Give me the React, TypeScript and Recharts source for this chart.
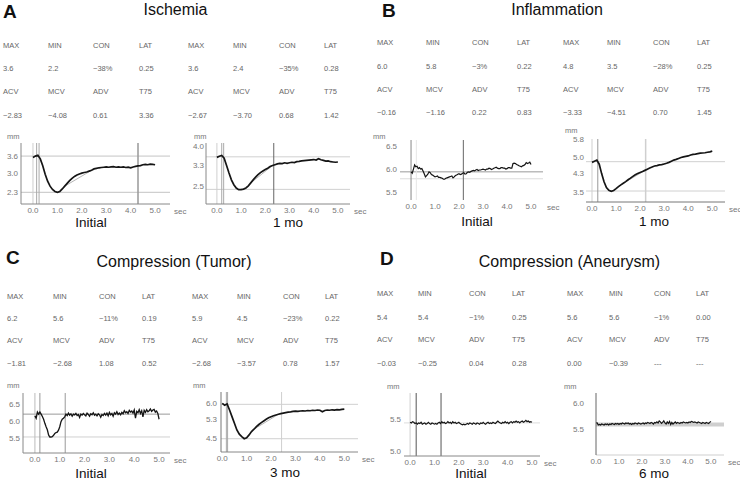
import React from 'react';
import { LineChart, Line, XAxis, YAxis, ReferenceLine } from 'recharts';

const FONT = '"Liberation Sans", Arial, sans-serif';

// ---------- time bases (sec) ----------
const TIME = [0.0,0.1,0.2,0.3,0.4,0.5,0.6,0.7,0.8,0.9,1.0,1.1,1.2,1.3,1.4,1.5,1.6,1.7,1.8,1.9,2.0,2.1,2.2,2.3,2.4,2.5,2.6,2.7,2.8,2.9,3.0,3.1,3.2,3.3,3.4,3.5,3.6,3.7,3.8,3.9,4.0,4.1,4.2,4.3,4.4,4.5,4.6,4.7,4.8,4.9,5.0];
const TIME_FINE = [0.0,0.05,0.1,0.15,0.2,0.25,0.3,0.35,0.4,0.45,0.5,0.55,0.6,0.65,0.7,0.75,0.8,0.85,0.9,0.95,1.0,1.05,1.1,1.15,1.2,1.25,1.3,1.35,1.4,1.45,1.5,1.55,1.6,1.65,1.7,1.75,1.8,1.85,1.9,1.95,2.0,2.05,2.1,2.15,2.2,2.25,2.3,2.35,2.4,2.45,2.5,2.55,2.6,2.65,2.7,2.75,2.8,2.85,2.9,2.95,3.0,3.05,3.1,3.15,3.2,3.25,3.3,3.35,3.4,3.45,3.5,3.55,3.6,3.65,3.7,3.75,3.8,3.85,3.9,3.95,4.0,4.05,4.1,4.15,4.2,4.25,4.3,4.35,4.4,4.45,4.5,4.55,4.6,4.65,4.7,4.75,4.8,4.85,4.9,4.95,5.0];
const X_TICKS = [0, 1, 2, 3, 4, 5];

// ---------- pupil diameter series (mm) ----------
const A1_V = [3.55,3.60,3.63,3.50,3.25,2.95,2.70,2.52,2.40,2.33,2.30,2.33,2.42,2.52,2.62,2.72,2.80,2.87,2.92,2.96,2.99,3.01,3.03,3.06,3.09,3.14,3.16,3.18,3.19,3.20,3.21,3.20,3.21,3.22,3.20,3.21,3.20,3.21,3.19,3.20,3.18,3.21,3.23,3.25,3.26,3.29,3.30,3.29,3.31,3.30,3.29];
const A2_V = [3.58,3.62,3.65,3.55,3.28,3.00,2.75,2.57,2.45,2.39,2.39,2.41,2.45,2.53,2.64,2.75,2.85,2.94,3.02,3.08,3.13,3.18,3.24,3.28,3.31,3.34,3.36,3.35,3.38,3.36,3.38,3.40,3.39,3.42,3.43,3.45,3.46,3.47,3.48,3.49,3.50,3.48,3.53,3.49,3.47,3.44,3.45,3.42,3.41,3.40,3.41];
const B1_V = [5.94,5.91,6.00,6.09,6.05,6.06,6.01,6.03,6.00,6.01,5.96,5.90,5.83,5.86,5.89,5.94,5.92,5.88,5.87,5.85,5.83,5.84,5.85,5.82,5.82,5.81,5.80,5.78,5.78,5.80,5.81,5.82,5.83,5.84,5.85,5.81,5.83,5.86,5.87,5.89,5.90,5.88,5.89,5.91,5.92,5.89,5.90,5.93,5.94,5.93,5.95,5.96,5.97,5.96,5.98,5.99,5.97,5.98,5.98,5.99,6.00,5.99,5.98,6.00,6.00,6.02,6.01,5.99,6.00,6.02,6.03,6.04,6.02,6.01,6.01,6.03,6.03,6.02,6.02,6.00,6.01,6.03,6.03,6.02,6.02,6.12,6.13,6.12,6.10,6.09,6.07,6.06,6.05,6.07,6.08,6.10,6.14,6.12,6.13,6.15,6.10];
const B2_V = [4.78,4.83,4.88,4.70,4.29,3.93,3.68,3.56,3.52,3.55,3.63,3.72,3.80,3.87,3.94,4.02,4.09,4.17,4.24,4.29,4.34,4.38,4.43,4.48,4.53,4.58,4.62,4.64,4.67,4.68,4.71,4.74,4.78,4.83,4.88,4.91,4.95,4.99,5.02,5.04,5.06,5.10,5.13,5.14,5.16,5.18,5.19,5.20,5.22,5.24,5.27];
const C1_V = [6.15,6.08,6.26,6.20,6.26,6.20,6.13,6.05,5.93,5.83,5.74,5.59,5.53,5.53,5.54,5.58,5.63,5.66,5.67,5.73,5.83,5.98,6.05,6.08,6.12,6.20,6.16,6.23,6.17,6.21,6.14,6.20,6.18,6.22,6.16,6.19,6.10,6.20,6.17,6.22,6.18,6.15,6.23,6.19,6.14,6.21,6.18,6.24,6.17,6.20,6.15,6.21,6.18,6.11,6.19,6.16,6.22,6.17,6.23,6.15,6.25,6.18,6.22,6.14,6.24,6.20,6.27,6.19,6.23,6.18,6.25,6.21,6.30,6.24,6.27,6.22,6.31,6.26,6.29,6.23,6.32,6.08,6.28,6.24,6.33,6.22,6.30,6.12,6.31,6.25,6.33,6.27,6.30,6.35,6.28,6.32,6.34,6.26,6.29,6.22,6.05];
const C2_V = [5.97,5.89,5.95,5.69,5.41,5.13,4.85,4.67,4.57,4.48,4.52,4.64,4.78,4.88,4.99,5.08,5.16,5.23,5.30,5.36,5.41,5.45,5.48,5.51,5.54,5.56,5.58,5.60,5.61,5.63,5.64,5.63,5.65,5.66,5.65,5.67,5.66,5.68,5.67,5.69,5.68,5.62,5.67,5.69,5.68,5.70,5.69,5.71,5.70,5.72,5.73];
const D1_V = [5.45,5.44,5.46,5.45,5.43,5.44,5.42,5.44,5.43,5.45,5.42,5.43,5.44,5.42,5.43,5.45,5.43,5.42,5.44,5.43,5.42,5.43,5.42,5.44,5.45,5.43,5.46,5.44,5.45,5.43,5.44,5.46,5.44,5.45,5.43,5.46,5.44,5.45,5.43,5.44,5.45,5.43,5.42,5.41,5.42,5.41,5.42,5.43,5.42,5.44,5.43,5.42,5.44,5.43,5.42,5.44,5.43,5.42,5.44,5.43,5.45,5.43,5.42,5.44,5.45,5.43,5.44,5.43,5.45,5.44,5.43,5.45,5.47,5.45,5.44,5.43,5.45,5.44,5.46,5.44,5.45,5.43,5.45,5.46,5.44,5.46,5.45,5.47,5.45,5.46,5.44,5.46,5.47,5.45,5.46,5.48,5.46,5.47,5.45,5.46,5.45];
const D2_V = [5.62,5.62,5.58,5.59,5.58,5.60,5.59,5.58,5.60,5.59,5.60,5.58,5.60,5.59,5.61,5.60,5.59,5.61,5.60,5.61,5.59,5.61,5.60,5.62,5.61,5.60,5.62,5.61,5.62,5.60,5.61,5.59,5.61,5.60,5.62,5.61,5.60,5.62,5.61,5.60,5.61,5.62,5.60,5.62,5.61,5.63,5.62,5.61,5.63,5.62,5.60,5.63,5.62,5.64,5.62,5.66,5.64,5.61,5.63,5.66,5.62,5.60,5.64,5.61,5.65,5.59,5.63,5.60,5.62,5.64,5.61,5.63,5.62,5.61,5.63,5.62,5.64,5.63,5.62,5.63,5.62,5.64,5.63,5.65,5.64,5.63,5.64,5.63,5.62,5.64,5.63,5.62,5.61,5.63,5.62,5.61,5.63,5.62,5.61,5.63,5.65];

// ---------- table values ----------
const HEAD_1 = ['MAX', 'MIN', 'CON', 'LAT'];
const HEAD_2 = ['ACV', 'MCV', 'ADV', 'T75'];
const A_L1 = ['3.6', '2.2', '−38%', '0.25'];
const A_L2 = ['−2.83', '−4.08', '0.61', '3.36'];
const A_R1 = ['3.6', '2.4', '−35%', '0.28'];
const A_R2 = ['−2.67', '−3.70', '0.68', '1.42'];
const B_L1 = ['6.0', '5.8', '−3%', '0.22'];
const B_L2 = ['−0.16', '−1.16', '0.22', '0.83'];
const B_R1 = ['4.8', '3.5', '−28%', '0.25'];
const B_R2 = ['−3.33', '−4.51', '0.70', '1.45'];
const C_L1 = ['6.2', '5.6', '−11%', '0.19'];
const C_L2 = ['−1.81', '−2.68', '1.08', '0.52'];
const C_R1 = ['5.9', '4.5', '−23%', '0.22'];
const C_R2 = ['−2.68', '−3.57', '0.78', '1.57'];
const D_L1 = ['5.4', '5.4', '−1%', '0.25'];
const D_L2 = ['−0.03', '−0.25', '0.04', '0.28'];
const D_R1 = ['5.6', '5.6', '−1%', '0.00'];
const D_R2 = ['0.00', '−0.39', '---', '---'];

const fmt = (v: number) => v.toFixed(1);

type VL = { x: number; c: string; w?: number };
type HL = { y: number; c: string; w?: number };
type Cfg = {
  plot: [number, number, number, number];
  xDomain: [number, number];
  yDomain: [number, number];
  yTicks: number[];
  hLines: HL[];
  vLines: VL[];
  time: number[];
  values: number[];
  fit?: [number, number, number, number];
  xAxis?: string;
  yAxis?: string;
  tickGap: number;
  lw: number;
  mm: [number, number];
  caption: string;
  cap: [number, number];
};

const CHARTS: Cfg[] = [
  { plot: [21, 143, 170, 204], xDomain: [-0.49, 5.61], yDomain: [1.88, 4.07], yTicks: [2.3, 3.0, 3.6],
    hLines: [{ y: 3.6, c: '#c4c4c4' }, { y: 2.3, c: '#c4c4c4' }],
    vLines: [{ x: 0, c: '#cfcfcf' }, { x: 0.15, c: '#aaa' }, { x: 0.25, c: '#aaa' }, { x: 4.3, c: '#999', w: 1.5 }],
    time: TIME, values: A1_V, fit: [1.3, 2.52, 2.4, 3.09], xAxis: '#888', yAxis: '#888', tickGap: 3, lw: 1.7,
    mm: [7, 137], caption: 'Initial', cap: [91, 223] },
  { plot: [206, 143, 350, 204], xDomain: [-0.45, 5.5], yDomain: [1.86, 4.11], yTicks: [2.5, 3.3, 4.0],
    hLines: [{ y: 3.6, c: '#d0d0d0' }, { y: 2.4, c: '#d0d0d0' }],
    vLines: [{ x: 0, c: '#cfcfcf' }, { x: 0.2, c: '#aaa' }, { x: 0.28, c: '#aaa' }, { x: 2.35, c: '#666' }],
    time: TIME, values: A2_V, fit: [1.4, 2.64, 2.3, 3.28], xAxis: '#888', yAxis: '#888', tickGap: 2, lw: 1.7,
    mm: [194, 137], caption: '1 mo', cap: [288, 223] },
  { plot: [400, 140, 543, 200], xDomain: [-0.46, 5.5], yDomain: [5.33, 6.63], yTicks: [5.5, 6.0, 6.5],
    hLines: [{ y: 5.94, c: '#999' }, { y: 5.79, c: '#dcdcdc' }],
    vLines: [{ x: 0, c: '#888' }, { x: 0.22, c: '#e6e6e6' }, { x: 2.18, c: '#666' }],
    time: TIME_FINE, values: B1_V, tickGap: 3, lw: 1.2,
    mm: [373, 137], caption: 'Initial', cap: [477, 222] },
  { plot: [586, 139, 725, 202], xDomain: [-0.25, 5.53], yDomain: [3.05, 5.8], yTicks: [3.5, 4.3, 5.0, 5.8],
    hLines: [{ y: 4.81, c: '#d0d0d0' }, { y: 3.53, c: '#d0d0d0' }],
    vLines: [{ x: 0, c: '#cfcfcf' }, { x: 0.24, c: '#999' }, { x: 2.23, c: '#cfcfcf', w: 1.5 }],
    time: TIME, values: B2_V, fit: [1.2, 3.80, 2.2, 4.43], xAxis: '#777', tickGap: 2, lw: 1.7,
    mm: [565, 131], caption: '1 mo', cap: [654, 222] },
  { plot: [23, 393, 170, 453], xDomain: [-0.48, 5.44], yDomain: [5.06, 6.82], yTicks: [5.5, 6.0, 6.5],
    hLines: [{ y: 6.2, c: '#999' }, { y: 5.53, c: '#d0d0d0' }],
    vLines: [{ x: 0, c: '#bbb' }, { x: 0.2, c: '#999' }, { x: 1.22, c: '#999' }],
    time: TIME_FINE, values: C1_V, xAxis: '#888', yAxis: '#888', tickGap: 3, lw: 1.3,
    mm: [7, 386], caption: 'Initial', cap: [91, 473.5] },
  { plot: [221, 392, 358, 452], xDomain: [-0.05, 5.56], yDomain: [3.92, 6.45], yTicks: [4.5, 5.3, 6.0],
    hLines: [{ y: 5.93, c: '#d0d0d0' }, { y: 4.48, c: '#d0d0d0' }],
    vLines: [{ x: 0.17, c: '#aaa' }, { x: 0.22, c: '#aaa' }, { x: 2.43, c: '#cfcfcf' }],
    time: TIME, values: C2_V, fit: [1.3, 4.88, 2.3, 5.51], xAxis: '#888', yAxis: '#777', tickGap: 4, lw: 1.7,
    mm: [193, 386], caption: '3 mo', cap: [285, 472.5] },
  { plot: [404, 393, 540, 456], xDomain: [-0.25, 5.33], yDomain: [4.92, 5.91], yTicks: [5.0, 5.5],
    hLines: [{ y: 5.44, c: '#dcdcdc' }],
    vLines: [{ x: 0, c: '#cfcfcf' }, { x: 0.25, c: '#555' }, { x: 1.27, c: '#555' }],
    time: TIME_FINE, values: D1_V, xAxis: '#888', tickGap: 3, lw: 1.2,
    mm: [387, 387], caption: 'Initial', cap: [471, 473.5] },
  { plot: [596, 393, 724, 455], xDomain: [0, 5.57], yDomain: [5.01, 6.19], yTicks: [5.5, 6.0],
    hLines: [{ y: 5.59, c: '#cfcfcf', w: 4 }],
    vLines: [],
    time: TIME_FINE, values: D2_V, xAxis: '#cfcfcf', yAxis: '#666', tickGap: 12, lw: 1.2,
    mm: [564, 387], caption: '6 mo', cap: [654, 473.5] },
];

type Panel = {
  letter: string; title: string; letterPos: [number, number]; titlePos: [number, number];
  cols: number[]; rows: number[]; lines: string[][];
};

const PANELS: Panel[] = [
  { letter: 'A', title: 'Ischemia', letterPos: [3, 11.7], titlePos: [175.5, 9.5],
    cols: [3, 48, 93, 139, 188, 233, 279, 324], rows: [45.5, 69, 92, 116],
    lines: [[...HEAD_1, ...HEAD_1], [...A_L1, ...A_R1], [...HEAD_2, ...HEAD_2], [...A_L2, ...A_R2]] },
  { letter: 'B', title: 'Inflammation', letterPos: [382, 10.5], titlePos: [557, 9.5],
    cols: [377, 426, 472, 517, 563, 607, 653, 697], rows: [43, 66.5, 89.5, 113],
    lines: [[...HEAD_1, ...HEAD_1], [...B_L1, ...B_R1], [...HEAD_2, ...HEAD_2], [...B_L2, ...B_R2]] },
  { letter: 'C', title: 'Compression (Tumor)', letterPos: [6, 257.5], titlePos: [174, 261.5],
    cols: [7, 53, 99, 142, 192, 237, 283, 325], rows: [296.7, 319, 341, 364],
    lines: [[...HEAD_1, ...HEAD_1], [...C_L1, ...C_R1], [...HEAD_2, ...HEAD_2], [...C_L2, ...C_R2]] },
  { letter: 'D', title: 'Compression (Aneurysm)', letterPos: [380, 258.3], titlePos: [569.5, 261.5],
    cols: [377, 418, 469, 512, 567, 609, 654, 696], rows: [293.8, 317.5, 340, 364],
    lines: [[...HEAD_1, ...HEAD_1], [...D_L1, ...D_R1], [...HEAD_2, ...HEAD_2], [...D_L2, ...D_R2]] },
];

const abs = (left: number, top: number, extra: React.CSSProperties = {}): React.CSSProperties => ({
  position: 'absolute', left, top, whiteSpace: 'nowrap', fontFamily: FONT, ...extra,
});

function Trace({ cfg }: { cfg: Cfg }) {
  const [l, t, r, b] = cfg.plot;
  const YW = 40, XH = 14, MT = 8, MR = 26;
  const data = cfg.time.map((x, i) => ({ t: x, v: cfg.values[i] }));
  const tickStyle = { fontSize: 8, fill: '#777', fontFamily: FONT };
  return (
    <div style={{ position: 'absolute', left: l - YW, top: t - MT }}>
      <LineChart width={YW + (r - l) + MR} height={MT + (b - t) + XH} data={data}
        margin={{ top: MT, right: MR, left: 0, bottom: 0 }} style={{ overflow: 'visible' }}>
        <XAxis type="number" dataKey="t" domain={cfg.xDomain} allowDataOverflow ticks={X_TICKS} interval={0}
          tickFormatter={fmt} tickSize={0} tickMargin={3} tickLine={false} height={XH}
          axisLine={cfg.xAxis ? { stroke: cfg.xAxis } : false} tick={tickStyle}
          label={{ value: 'sec', position: 'right', offset: 4, fontSize: 8, fill: '#777', fontFamily: FONT }} />
        <YAxis type="number" domain={cfg.yDomain} allowDataOverflow ticks={cfg.yTicks} interval={0}
          tickFormatter={fmt} tickSize={0} tickMargin={cfg.tickGap} tickLine={false} width={YW}
          axisLine={cfg.yAxis ? { stroke: cfg.yAxis } : false} tick={tickStyle} />
        {cfg.hLines.map((h, i) => (
          <ReferenceLine key={'h' + i} y={h.y} stroke={h.c} strokeWidth={h.w ?? 1} />
        ))}
        {cfg.vLines.map((v, i) => (
          <ReferenceLine key={'v' + i} x={v.x} stroke={v.c} strokeWidth={v.w ?? 1} />
        ))}
        {cfg.fit && (
          <ReferenceLine segment={[{ x: cfg.fit[0], y: cfg.fit[1] }, { x: cfg.fit[2], y: cfg.fit[3] }]}
            stroke="#b5b5b5" strokeWidth={1} />
        )}
        <Line type="linear" dataKey="v" stroke="#151515" strokeWidth={cfg.lw} dot={false}
          isAnimationActive={false} />
      </LineChart>
    </div>
  );
}

export default function App() {
  const tfs = 7.5;
  const cfs = 13.5;
  return (
    <div style={{ position: 'absolute', left: 0, top: 0, width: 740, height: 481, background: '#fff', overflow: 'hidden' }}>
      {PANELS.map((p) => (
        <React.Fragment key={p.letter}>
          <div style={abs(p.letterPos[0], p.letterPos[1] - 0.49 * 19, { fontSize: 19, lineHeight: '19px', fontWeight: 'bold', color: '#111' })}>
            {p.letter}
          </div>
          <div style={abs(p.titlePos[0], p.titlePos[1] - 0.49 * 16, { fontSize: 16, lineHeight: '16px', color: '#111', transform: 'translateX(-50%)' })}>
            {p.title}
          </div>
          {p.lines.map((row, ri) =>
            row.map((txt, ci) => (
              <div key={ri + '-' + ci} style={abs(p.cols[ci], p.rows[ri] - 0.49 * tfs, { fontSize: tfs, lineHeight: tfs + 'px', color: '#666' })}>
                {txt}
              </div>
            ))
          )}
        </React.Fragment>
      ))}
      {CHARTS.map((c, i) => (
        <React.Fragment key={'c' + i}>
          <Trace cfg={c} />
          <div style={abs(c.mm[0], c.mm[1] - 0.59 * 7.5, { fontSize: 7.5, lineHeight: '7.5px', color: '#777' })}>mm</div>
          <div style={abs(c.cap[0], c.cap[1] - 0.49 * cfs, { fontSize: cfs, lineHeight: cfs + 'px', color: '#111', transform: 'translateX(-50%)' })}>
            {c.caption}
          </div>
        </React.Fragment>
      ))}
    </div>
  );
}
